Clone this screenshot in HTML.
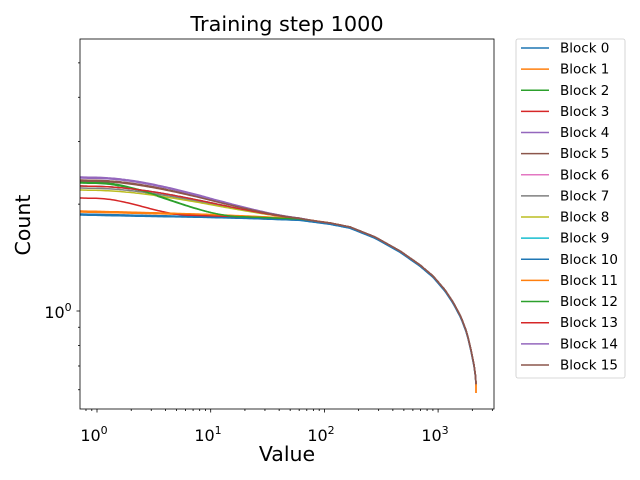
<!DOCTYPE html>
<html><head><meta charset="utf-8"><style>body{margin:0;background:#fff}svg{display:block}text{font-family:"DejaVu Sans","Liberation Sans",sans-serif}</style></head>
<body>
<svg id="s" width="640" height="480" xmlns="http://www.w3.org/2000/svg">
<rect width="640" height="480" fill="#fff"/>
<text x="287" y="31" font-size="20.8" text-anchor="middle">Training step 1000</text>
<text x="287" y="461" font-size="20.5" text-anchor="middle">Value</text>
<text x="30" y="225" font-size="20.5" text-anchor="middle" transform="rotate(-90 30 225)">Count</text>
<g id="curves"></g>
<g id="ticks" stroke="#000" stroke-width="0.8"></g>
<rect x="80" y="39" width="414" height="370" fill="none" stroke="#000" stroke-width="0.8"/>
<g font-size="16" text-anchor="middle">
<text x="94" y="441">10<tspan font-size="11" dy="-7">0</tspan></text>
<text x="208" y="441">10<tspan font-size="11" dy="-7">1</tspan></text>
<text x="321" y="441">10<tspan font-size="11" dy="-7">2</tspan></text>
<text x="435" y="441">10<tspan font-size="11" dy="-7">3</tspan></text>
<text x="58" y="318">10<tspan font-size="11" dy="-7">0</tspan></text>
</g>
<rect x="516" y="39" width="109" height="339" rx="2" fill="#fff" stroke="#ccc" stroke-width="0.8"/>
<g id="leg" font-size="13.5"></g>
</svg>
<script>
const C=["#1f77b4","#ff7f0e","#2ca02c","#d62728","#9467bd","#8c564b","#e377c2","#7f7f7f","#bcbd22","#17becf"];
const ns="http://www.w3.org/2000/svg";
function el(t,a,p){const e=document.createElementNS(ns,t);for(const k in a)e.setAttribute(k,a[k]);p.appendChild(e);return e;}
const tk=document.getElementById('ticks');
const X=v=>97+113.7*Math.log10(v), Y=v=>311-355*Math.log10(v);
for(let d=-1;d<=3;d++)for(let m=1;m<10;m++){const v=m*Math.pow(10,d);const x=X(v);if(x<80||x>494)continue;const L=m==1?3.5:2;el('line',{x1:x,x2:x,y1:409,y2:409+L},tk);}
[0.6,0.7,0.8,0.9,1,2,3,4,5].forEach(v=>{const y=Y(v);const L=v==1?3.5:2;el('line',{x1:80,x2:80-L,y1:y,y2:y},tk);});
const B=[[80,213],[150,214.5],[200,215.5],[250,217],[300,219],[330,223],[350,227],[375,237],[400,251],[420,265],[433,276],[445,290],[453,302],[461,317],[467,333],[471,350],[474,365],[475.5,376],[476,384]];
function Bf(x){for(let i=0;i<B.length-1;i++){if(x<=B[i+1][0]){const t=(x-B[i][0])/(B[i+1][0]-B[i][0]);return B[i][1]+t*(B[i+1][1]-B[i][1]);}}return B[B.length-1][1];}
const y0=[214,212,183,198,177,180,186,188,190,186,215,211,182,186,178,181];
const cv=document.getElementById('curves');
const xs=[];for(let x=80;x<470;x+=2)xs.push(x);[470,471,472,473,474,475,475.5,476].forEach(x=>xs.push(x));
for(let i=0;i<16;i++){
 let pts=[];const fast=(i==3)?190:(i==2||i==12)?240:(y0[i]>=211?380:320);
 const off=(i==0||i==10)?1.2:0;
 xs.forEach(x=>{let w;if(x<=97)w=1;else if(x>=fast)w=0;else{const t=(x-97)/(fast-97);w=1-t*t*(3-2*t);}
  let y=Bf(x)+(y0[i]-213-off)*w+off;
  pts.push(x+','+y.toFixed(1));});
 if(i==1||i==11)pts.push('476,393');
 el('polyline',{points:pts.join(' '),fill:'none',stroke:C[i%10],'stroke-width':1.5,'stroke-linejoin':'round'},cv);
}
const lg=document.getElementById('leg');
for(let i=0;i<16;i++){const y=48+21.13*i;el('line',{x1:521,x2:549,y1:y,y2:y,stroke:C[i%10],'stroke-width':1.5},lg);const t=el('text',{x:560,y:y+4.5},lg);t.textContent='Block '+i;}
</script>
</body></html>
